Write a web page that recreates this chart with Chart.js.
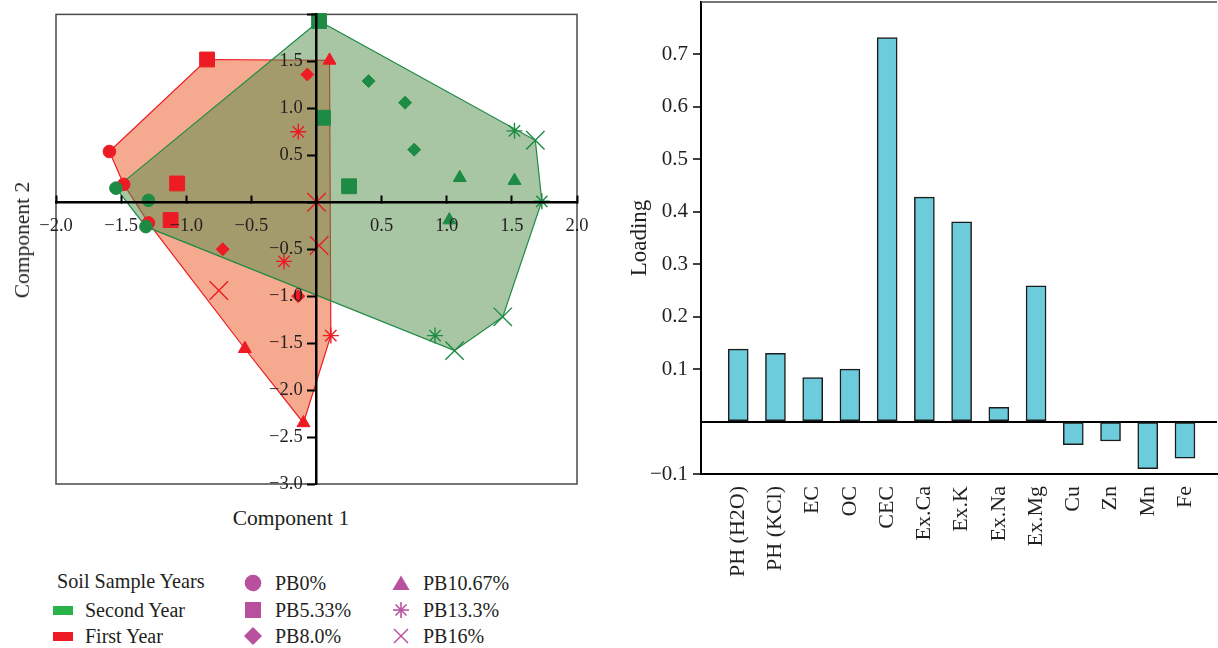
<!DOCTYPE html>
<html>
<head>
<meta charset="utf-8">
<script src="https://cdn.jsdelivr.net/npm/chart.js@4/dist/chart.umd.min.js"></script>
<style>
  html, body { margin: 0; padding: 0; background: #fff; }
  body { width: 1218px; height: 648px; position: relative; overflow: hidden;
         font-family: "Liberation Serif", serif; color: #231f20; }
  #pcaChart { position: absolute; left: 0; top: 0; }
  #barChart { position: absolute; left: 600px; top: 0; }
  .txt { position: absolute; white-space: nowrap; line-height: 22px; }
  .item { position: absolute; height: 22px; display: flex; align-items: center; font-size: 20px; white-space: nowrap; }
  .item svg { margin-right: 13px; }
</style>
</head>
<body>
<canvas id="pcaChart" width="600" height="500"></canvas>
<canvas id="barChart" width="618" height="648"></canvas>

<div class="txt" style="left:291px; top:507px; font-size:21.5px; transform:translateX(-50%);">Component 1</div>
<div class="txt" style="left:22px; top:240px; font-size:21.5px; transform:translate(-50%,-50%) rotate(-90deg);">Component 2</div>
<div id="legend"></div>

<script>
// PCA scores [component 1, component 2], first year
const pb0First = [[-1.59, 0.54], [-1.48, 0.19], [-1.29, -0.22]];
const pb533First = [[-0.84, 1.52], [-1.07, 0.20], [-1.12, -0.19]];
const pb8First = [[-0.07, 1.36], [-0.72, -0.50], [-0.14, -1.00]];
const pb1067First = [[0.10, 1.51], [-0.55, -1.56], [-0.10, -2.35]];
const pb133First = [[-0.14, 0.75], [-0.25, -0.63], [0.11, -1.42]];
const pb16First = [[0.00, 0.00], [0.02, -0.46], [-0.75, -0.94]];

// second year
const pb0Second = [[-1.54, 0.15], [-1.29, 0.02], [-1.31, -0.26]];
const pb533Second = [[0.02, 1.93], [0.05, 0.90], [0.25, 0.17]];
const pb8Second = [[0.40, 1.29], [0.68, 1.06], [0.75, 0.56]];
const pb1067Second = [[1.10, 0.26], [1.52, 0.23], [1.02, -0.19]];
const pb133Second = [[1.52, 0.76], [1.73, 0.01], [0.91, -1.42]];
const pb16Second = [[1.68, 0.66], [1.43, -1.22], [1.06, -1.58]];

const treatments = ["PB0%", "PB5.33%", "PB8.0%", "PB10.67%", "PB13.3%", "PB16%"];
const years = ["Second Year", "First Year"];
const firstYear = [pb0First, pb533First, pb8First, pb1067First, pb133First, pb16First];
const secondYear = [pb0Second, pb533Second, pb8Second, pb1067Second, pb133Second, pb16Second];

// loadings for the bar chart
const loadingLabels = ["PH (H2O)", "PH (KCl)", "EC", "OC", "CEC", "Ex.Ca", "Ex.K", "Ex.Na", "Ex.Mg", "Cu", "Zn", "Mn", "Fe"];
const loadingValues = [0.138, 0.130, 0.084, 0.100, 0.732, 0.428, 0.381, 0.027, 0.259, -0.044, -0.037, -0.090, -0.070];

// styles
const markerStyles = ["circle", "rect", "rectRot", "triangle", "star", "crossRot"];
const markerSizes = [6.3, 10.5, 6.5, 7.5, 8, 13];
const RED = "#ed1c24";
const GREEN = "#1e8b45";
const LEGEND_PINK = "#b8509e";

Chart.defaults.font.family = "'Liberation Serif', serif";
Chart.defaults.color = "#231f20";

const minus = v => (v < 0 ? "\u2212" : "") + Math.abs(v).toFixed(1);

function convexHull(points) {
    const pts = points.slice().sort((a, b) => a[0] - b[0] || a[1] - b[1]);
    const cross = (o, a, b) => (a[0] - o[0]) * (b[1] - o[1]) - (a[1] - o[1]) * (b[0] - o[0]);
    const lower = [];
    for (const p of pts) {
        while (lower.length >= 2 && cross(lower[lower.length - 2], lower[lower.length - 1], p) <= 0) lower.pop();
        lower.push(p);
    }
    const upper = [];
    for (let i = pts.length - 1; i >= 0; i--) {
        const p = pts[i];
        while (upper.length >= 2 && cross(upper[upper.length - 2], upper[upper.length - 1], p) <= 0) upper.pop();
        upper.push(p);
    }
    upper.pop();
    lower.pop();
    const hull = lower.concat(upper);
    hull.push(hull[0]);
    return hull;
}

function hullDataset(groups, fillColor, lineColor, order) {
    const hull = convexHull(groups.flat());
    return {
        type: "line",
        data: hull.map(p => ({x: p[0], y: p[1]})),
        fill: "shape",
        backgroundColor: fillColor,
        borderColor: lineColor,
        borderWidth: 1.2,
        pointRadius: 0,
        tension: 0,
        order: order,
        clip: false
    };
}

function markerDatasets(groups, color, order) {
    return groups.map((pts, i) => ({
        type: "scatter",
        label: treatments[i],
        data: pts.map(p => ({x: p[0], y: p[1]})),
        pointStyle: markerStyles[i],
        pointRadius: markerSizes[i],
        pointHoverRadius: markerSizes[i],
        backgroundColor: color,
        borderColor: color,
        pointBorderWidth: i >= 4 ? 1.4 : 1,
        order: order,
        clip: false
    }));
}

// draws the frame around the score plot
const frame = {
    id: "frame",
    beforeDatasetsDraw(chart) {
        const a = chart.chartArea;
        const c = chart.ctx;
        c.save();
        c.strokeStyle = "#4a4a4a";
        c.lineWidth = 1.5;
        c.strokeRect(a.left, a.top, a.right - a.left, a.bottom - a.top);
        c.restore();
    }
};

new Chart(document.getElementById("pcaChart"), {
    type: "scatter",
    data: {
        datasets: [
            ...markerDatasets(secondYear, GREEN, 0),
            ...markerDatasets(firstYear, RED, 1),
            hullDataset(secondYear, "rgba(81,141,73,0.5)", GREEN, 2),
            hullDataset(firstYear, "rgba(235,83,29,0.5)", RED, 3)
        ]
    },
    options: {
        responsive: false,
        animation: false,
        layout: {padding: {left: 56, right: 23, top: 12, bottom: 16}},
        plugins: {legend: {display: false}, tooltip: {enabled: false}},
        scales: {
            x: {
                type: "linear",
                position: {y: 0},
                min: -2, max: 2,
                afterFit(s) { s.height = 0; s.paddingLeft = 0; s.paddingRight = 0; },
                border: {color: "#000", width: 2.5, z: 1},
                grid: {drawOnChartArea: false, drawTicks: true, tickLength: -8, tickWidth: 2, tickColor: "#000", z: 1},
                ticks: {
                    stepSize: 0.5, padding: 21, z: 1,
                    font: {size: 18.5}, maxRotation: 0, autoSkip: false,
                    callback: v => Math.abs(v) < 1e-9 ? "" : minus(v)
                }
            },
            y: {
                type: "linear",
                position: {x: 0},
                min: -3, max: 2,
                afterFit(s) { s.width = 0; s.paddingTop = 0; s.paddingBottom = 0; },
                border: {color: "#000", width: 2.5, z: 1},
                grid: {drawOnChartArea: false, drawTicks: true, tickLength: 8, tickWidth: 2, tickColor: "#000", z: 1},
                ticks: {
                    stepSize: 0.5, z: 1, font: {size: 18.5}, autoSkip: false,
                    callback: v => (Math.abs(v) < 1e-9 || v > 1.9) ? "" : minus(v) + "   "
                }
            }
        }
    },
    plugins: [frame]
});

// top edge of the loading plot
const topLine = {
    id: "topLine",
    afterDraw(chart) {
        const a = chart.chartArea;
        const c = chart.ctx;
        c.save();
        c.strokeStyle = "#4a4a4a";
        c.lineWidth = 1.5;
        c.beginPath();
        c.moveTo(a.left, a.top);
        c.lineTo(a.right, a.top);
        c.stroke();
        c.restore();
    }
};

new Chart(document.getElementById("barChart"), {
    type: "bar",
    data: {
        datasets: [{
            label: "Loading",
            data: loadingValues.map((v, i) => ({x: i + 1, y: v})),
            backgroundColor: "#6dccdb",
            borderColor: "#1c1c1c",
            borderWidth: 1.5,
            borderSkipped: false,
            barThickness: 20
        }]
    },
    options: {
        responsive: false,
        animation: false,
        layout: {padding: {left: 0, right: 1, top: 2, bottom: 0}},
        plugins: {legend: {display: false}, tooltip: {enabled: false}},
        scales: {
            x: {
                type: "linear",
                offset: false,
                min: 0, max: 13.86,
                afterFit(s) { s.height = 174; s.paddingLeft = 0; s.paddingRight = 0; },
                afterBuildTicks(s) { s.ticks = loadingLabels.map((_, i) => ({value: i + 1})); },
                border: {color: "#000", width: 2},
                grid: {display: false, drawTicks: false, offset: false},
                ticks: {
                    padding: 12, font: {size: 22}, autoSkip: false,
                    minRotation: 90, maxRotation: 90,
                    callback: v => loadingLabels[v - 1] || ""
                }
            },
            y: {
                min: -0.1, max: 0.8,
                afterFit(s) { s.width = 101; s.paddingTop = 0; s.paddingBottom = 0; },
                border: {color: "#000", width: 2},
                grid: {
                    color: c => (c.tick && Math.abs(c.tick.value) < 1e-9) ? "#000" : "rgba(0,0,0,0)",
                    lineWidth: 2,
                    tickLength: 8,
                    tickWidth: 1.5,
                    tickColor: c => (c.tick && (Math.abs(c.tick.value) < 1e-9 || c.tick.value > 0.75)) ? "rgba(0,0,0,0)" : "#000"
                },
                ticks: {
                    stepSize: 0.1, padding: 5, font: {size: 21},
                    callback: v => (Math.abs(v) < 1e-9 || v > 0.75) ? "" : minus(v)
                },
                title: {display: true, text: "Loading", font: {size: 23}, padding: {top: 26, bottom: 0}}
            }
        }
    },
    plugins: [topLine]
});

// legend below the score plot
function legendIcon(style) {
    const c = LEGEND_PINK;
    let body = "";
    if (style === "circle") body = `<circle cx="9" cy="9" r="8.3" fill="${c}"/>`;
    if (style === "rect") body = `<rect x="1" y="1" width="16" height="16" fill="${c}"/>`;
    if (style === "rectRot") body = `<polygon points="9,0 18,9 9,18 0,9" fill="${c}"/>`;
    if (style === "triangle") body = `<polygon points="9,1.5 17.5,16 0.5,16" fill="${c}"/>`;
    if (style === "star") body = `<g stroke="${c}" stroke-width="1.6"><line x1="9" y1="1" x2="9" y2="17"/><line x1="1" y1="9" x2="17" y2="9"/><line x1="3.5" y1="3.5" x2="14.5" y2="14.5"/><line x1="14.5" y1="3.5" x2="3.5" y2="14.5"/></g>`;
    if (style === "crossRot") body = `<g stroke="${c}" stroke-width="1.4"><line x1="2" y1="2" x2="16" y2="16"/><line x1="16" y1="2" x2="2" y2="16"/></g>`;
    return `<svg width="18" height="18" viewBox="0 0 18 18">${body}</svg>`;
}

const legend = document.getElementById("legend");
let html = `<div class="txt" style="left:57px; top:570px; font-size:20.2px;">Soil Sample Years</div>`;
const yearColors = ["#2bb34b", RED];
const rowY = [583, 610, 636];
years.forEach((y, i) => {
    html += `<div class="item" style="left:53px; top:${rowY[i + 1] - 11}px;">` +
        `<span style="display:inline-block;width:20px;height:9px;background:${yearColors[i]};margin-right:12px;"></span>${y}</div>`;
});
treatments.forEach((t, i) => {
    const col = Math.floor(i / 3);
    const left = col === 0 ? 244 : 392;
    html += `<div class="item" style="left:${left}px; top:${rowY[i % 3] - 11}px;">${legendIcon(markerStyles[i])}${t}</div>`;
});
legend.innerHTML = html;
</script>
</body>
</html>
